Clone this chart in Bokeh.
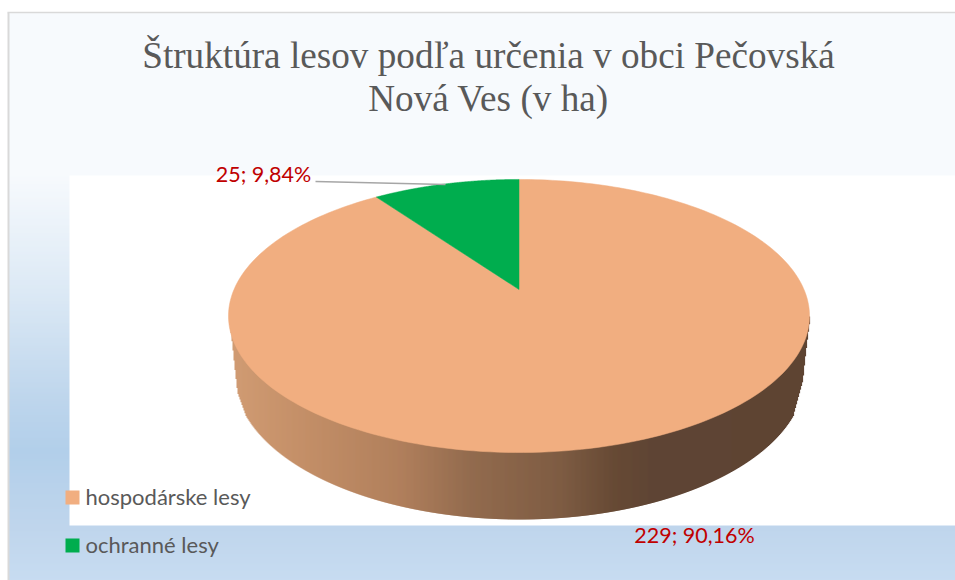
import numpy as np
from bokeh.plotting import figure
from bokeh.models import Range1d
from bokeh.core.properties import value
from bokeh.embed import file_html
from bokeh.resources import INLINE

title_lines = ["Štruktúra lesov podľa určenia v obci Pečovská", "Nová Ves (v ha)"]
categories = ["hospodárske lesy", "ochranné lesy"]
values = [229, 25]
colors = ["#F1AE80", "#00AD4E"]

total = sum(values)
pcts = [v / total * 100 for v in values]
labels = [f"{v}; {q:.2f}%".replace(".", ",") for v, q in zip(values, pcts)]

W, H = 955, 580
p = figure(width=W, height=H, x_range=Range1d(0, 955), y_range=Range1d(580, 0),
           toolbar_location=None, output_backend="svg", min_border=0,
           x_axis_location=None, y_axis_location=None, tools="")
p.grid.visible = False
p.outline_line_color = None
p.background_fill_color = "white"
p.border_fill_color = "white"


def mix(a, b, t):
    ca = [int(a[i:i + 2], 16) for i in (1, 3, 5)]
    cb = [int(b[i:i + 2], 16) for i in (1, 3, 5)]
    return "#%02x%02x%02x" % tuple(round(x + (y - x) * t) for x, y in zip(ca, cb))


def ramp(pos, stops):
    for (p0, c0), (p1, c1) in zip(stops, stops[1:]):
        if pos <= p1:
            return mix(c0, c1, (pos - p0) / (p1 - p0))
    return stops[-1][1]


# chart background: vertical gradient bands
bg_stops = [(12, "#F7FAFD"), (172, "#F7FAFD"), (290, "#DCE9F5"), (400, "#BDD5EC"),
            (450, "#B2CFEA"), (525, "#BFD5EC"), (580, "#C7DCF1")]
ys = np.arange(12, 580, 2)
p.quad(left=8, right=955, top=ys, bottom=ys + 2.5,
       fill_color=[ramp(y, bg_stops) for y in ys], line_color=None)
# frame
p.line([8, 8], [580, 12], line_color="#D9D9D9", line_width=2)
p.line([7, 955], [12, 12], line_color="#D9D9D9", line_width=1.5)
# plot area
p.quad(left=69, right=955, top=175, bottom=525, fill_color="white", line_color=None)

# pie geometry (projected disc)
cx, apex_y = 518.5, 289
a, b, k = 285, 131.4, 0.194


def rim(theta):
    u, v = np.sin(theta), np.cos(theta)
    w = 1 + k * v
    return cx + a * u / w, apex_y - b * v / w


# side wall: vertical strips
wall_stops = [(232, "#D09B73"), (300, "#C48F68"), (400, "#B07F5C"), (470, "#926B4E"),
              (560, "#7E5C43"), (613, "#674A35"), (650, "#5F4534"), (810, "#5E4433")]
bcx, bcy, brx, bry = 519, 375, 285, 144
xs = np.arange(229, 808.5, 1.0)
mid = xs + 0.5
curve = bcy + bry * np.sqrt(np.clip(1 - ((mid - bcx) / brx) ** 2, 0, 1))
side = np.interp(mid, [229, 232, 234, 237, 245, 793, 802, 804, 807, 809],
                 [320, 345, 365, 392, 414, 413, 380, 360, 335, 320])
bot = np.where((mid < 245) | (mid > 793), side, curve)
p.quad(left=xs, right=xs + 1.6, top=316, bottom=bot,
       fill_color=[ramp(x, wall_stops) for x in xs], line_color=None)

# top faces, sized by the values; the first slice starts at 12 o'clock and runs clockwise
angles = np.cumsum([0] + [v / total * 2 * np.pi for v in values])
for i in range(len(values)):
    t = np.linspace(angles[i], angles[i + 1], 240)
    rx, ry = rim(t)
    p.patch(np.r_[cx, rx], np.r_[apex_y, ry], fill_color=colors[i], line_color=colors[i], line_width=0.5)

# leader line
p.line([315, 445], [181, 184], line_color="#A6A6A6", line_width=1.5)

# title
p.text(x=[488, 488], y=[54.5, 97.5], text=title_lines, text_font=value("Liberation Serif"),
       text_font_size="37.2px", text_color="#595959", text_align="center", text_baseline="middle")

# data labels
p.text(x=[694], y=[534], text=[labels[0]], text_font=value("Lato"), text_font_size="21.5px",
       text_color="#C00000", text_align="center", text_baseline="middle")
p.text(x=[263], y=[173], text=[labels[1]], text_font=value("Lato"), text_font_size="21.5px",
       text_color="#C00000", text_align="center", text_baseline="middle")

# legend
ly = [497, 545]
p.rect(x=[72, 72], y=ly, width=14, height=14, fill_color=colors, line_color=None)
p.text(x=[85, 85], y=[v - 1 for v in ly], text=categories, text_font=value("Lato"), text_font_size="22px",
       text_color="#595959", text_align="left", text_baseline="middle")

open("out.html", "w").write(file_html(p, INLINE))
